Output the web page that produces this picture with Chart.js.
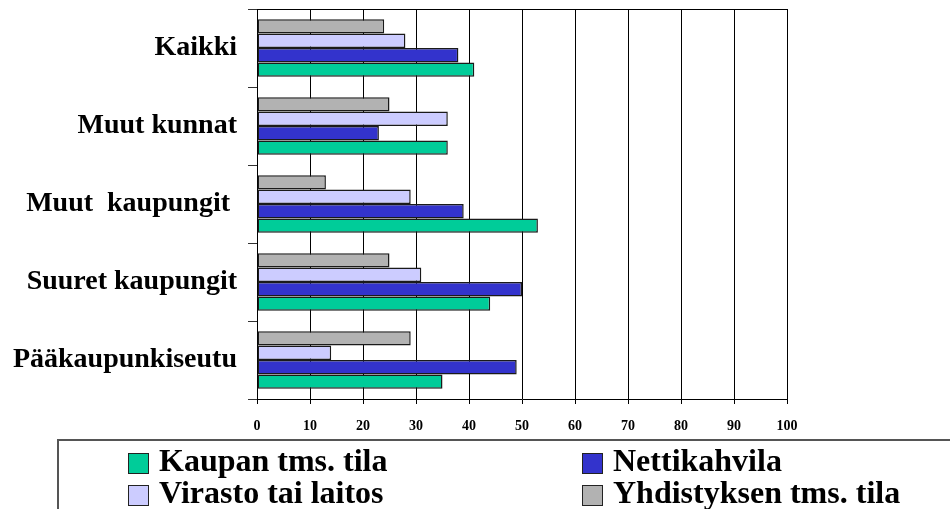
<!DOCTYPE html>
<html>
<head>
<meta charset="utf-8">
<script src="https://cdn.jsdelivr.net/npm/chart.js@4"></script>
<style>
  html, body { margin: 0; padding: 0; background: #fff; }
  #wrap { position: relative; width: 950px; height: 509px; overflow: hidden; }
  #legend {
    position: absolute; left: 57px; top: 439px; width: 950px; height: 100px;
    border-left: 2px solid #555; border-top: 2px solid #555;
    font-family: "Liberation Serif", "Times New Roman", serif; font-weight: bold; font-size: 32px;
  }
  .item { position: absolute; display: flex; align-items: center; height: 21px; line-height: 21px; white-space: nowrap; }
  .box { width: 19px; height: 19px; border: 1px solid #222; margin-right: 10px; }
  .item span.txt { position: relative; top: -3px; }
</style>
</head>
<body>
<div id="wrap">
  <canvas id="chart" width="950" height="509"></canvas>
  <div id="legend"></div>
</div>
<script>
const categories = ["Kaikki", "Muut kunnat", "Muut  kaupungit ", "Suuret kaupungit", "Pääkaupunkiseutu"];
const seriesNames = ["Kaupan tms. tila", "Nettikahvila", "Virasto tai laitos", "Yhdistyksen tms. tila"];
const seriesColors = ["#00CC99", "#3333CC", "#CCCCFF", "#B2B2B2"];
const kaupan = [41, 36, 53, 44, 35];
const nettikahvila = [38, 23, 39, 50, 49];
const virasto = [28, 36, 29, 31, 14];
const yhdistys = [24, 25, 13, 25, 29];
const xTicks = [0, 10, 20, 30, 40, 50, 60, 70, 80, 90, 100];

const values = [kaupan, nettikahvila, virasto, yhdistys];

// Excel draws the last series on top within a category, so reverse for Chart.js
const datasets = [3, 2, 1, 0].map(i => ({
  label: seriesNames[i],
  data: values[i],
  backgroundColor: seriesColors[i],
  borderColor: "#1a1a1a",
  borderWidth: 1.5,
  borderSkipped: false,
  categoryPercentage: 0.74,
  barPercentage: 1
}));

const serif = "'Liberation Serif', 'Times New Roman', serif";

new Chart(document.getElementById("chart").getContext("2d"), {
  type: "bar",
  data: { labels: categories, datasets: datasets },
  options: {
    indexAxis: "y",
    responsive: false,
    animation: false,
    layout: { padding: { top: 9, right: 163, left: 0, bottom: 0 } },
    plugins: { legend: { display: false }, tooltip: { enabled: false } },
    scales: {
      x: {
        min: 0,
        max: 100,
        afterBuildTicks: scale => { scale.ticks = xTicks.map(v => ({ value: v })); },
        afterFit: scale => { scale.height = 110; },
        ticks: { color: "#000", font: { family: serif, weight: "bold", size: 14 }, padding: 14, maxRotation: 0 },
        grid: { color: "#000", lineWidth: 1, tickLength: 5, tickColor: "#000" },
        border: { color: "#000", width: 1 }
      },
      y: {
        afterFit: scale => {
          scale.width = 257;
          scale.paddingTop = 0;
          scale.paddingBottom = 0;
        },
        ticks: { color: "#000", font: { family: serif, weight: "bold", size: 28 }, padding: 11 },
        grid: {
          offset: true,
          color: ctx => ctx.index === 0 ? "#000" : "rgba(0,0,0,0)",
          tickColor: "#333",
          tickLength: 9
        },
        border: { color: "#000", width: 1 }
      }
    }
  }
});

// legend in the same two-column order as the original
const legend = document.getElementById("legend");
const spots = [[69, 12], [523, 12], [69, 44], [523, 44]];
seriesNames.forEach((name, i) => {
  const item = document.createElement("div");
  item.className = "item";
  item.style.left = spots[i][0] + "px";
  item.style.top = spots[i][1] + "px";
  const box = document.createElement("span");
  box.className = "box";
  box.style.background = seriesColors[i];
  const txt = document.createElement("span");
  txt.className = "txt";
  txt.innerText = name;
  item.appendChild(box);
  item.appendChild(txt);
  legend.appendChild(item);
});
</script>
</body>
</html>
